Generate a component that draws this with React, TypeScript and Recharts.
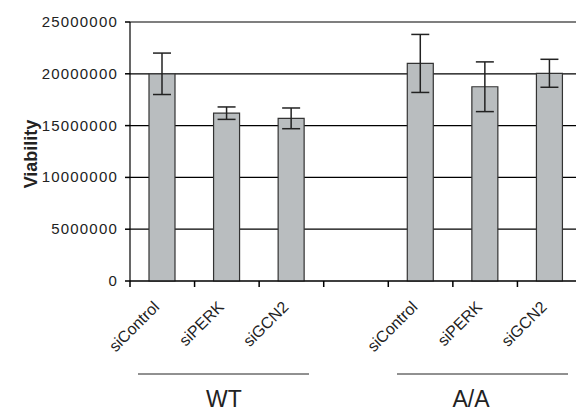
import React from 'react';
import { BarChart, Bar, XAxis, YAxis, CartesianGrid, ErrorBar } from 'recharts';

const categories = ['siControl', 'siPERK', 'siGCN2', '', 'siControl', 'siPERK', 'siGCN2'];
const viability = [20000000, 16200000, 15700000, null, 21000000, 18750000, 20050000];
const errors = [2000000, 600000, 1000000, null, 2800000, 2400000, 1350000];
const yTicks = [0, 5000000, 10000000, 15000000, 20000000, 25000000];
const groupLabels = ['WT', 'A/A'];

const data = categories.map((name, i) => ({ key: `c${i}`, name, value: viability[i], err: errors[i] }));

const FONT = '"Liberation Sans", Arial, sans-serif';
const PLOT_W = 452;
const AXIS_Y = 281;

const XTick = (props: any) => {
  const { x, payload } = props;
  const band = PLOT_W / categories.length;
  const idx = payload.index as number;
  const label = categories[idx];
  const left = x - band / 2;
  const ax = x - 2;
  const ay = AXIS_Y + 27;
  return (
    <g>
      <rect x={left - 0.75} y={AXIS_Y} width={1.5} height={6} fill="#000" />
      {idx === categories.length - 1 && <rect x={x + band / 2 - 0.75} y={AXIS_Y} width={1.5} height={6} fill="#000" />}
      {label && (
        <text
          x={ax}
          y={ay}
          textAnchor="end"
          transform={`rotate(-45 ${ax} ${ay})`}
          fontSize={16}
          fontFamily={FONT}
          fill="#222"
        >
          {label}
        </text>
      )}
    </g>
  );
};

const YTick = (props: any) => {
  const { x, y, payload } = props;
  return (
    <g>
      <rect x={x + 7} y={y - 0.75} width={5} height={1.5} fill="#000" />
      <text x={x} y={y + 5} textAnchor="end" fontSize={15} fontFamily={FONT} fill="#222" letterSpacing={1.2}>
        {String(payload.value)}
      </text>
    </g>
  );
};

export default function App() {
  return (
    <div style={{ position: 'absolute', left: 0, top: 0, width: 576, height: 414, overflow: 'hidden', background: '#fff' }}>
      <BarChart width={600} height={414} data={data} margin={{ top: 22, right: 18, left: 20, bottom: 132 }}>
        <CartesianGrid horizontal vertical={false} stroke="#000" strokeWidth={1.2} />
        <XAxis
          dataKey="key"
          height={1}
          interval={0}
          tickLine={false}
          tickSize={0}
          tickMargin={0}
          axisLine={{ stroke: '#000', strokeWidth: 1.2 }}
          tick={<XTick />}
        />
        <YAxis
          width={110}
          domain={[0, 25000000]}
          ticks={yTicks}
          interval={0}
          axisLine={{ stroke: '#000', strokeWidth: 1.2 }}
          tickLine={false}
          tickSize={5}
          tickMargin={7}
          tick={<YTick />}
        />
        <Bar dataKey="value" barSize={26} fill="#b9bdbf" stroke="#333" strokeWidth={1.2} isAnimationActive={false}>
          <ErrorBar dataKey="err" width={9} stroke="#222" strokeWidth={1.5} />
        </Bar>
      </BarChart>
      <svg width={576} height={414} style={{ position: 'absolute', left: 0, top: 0, pointerEvents: 'none' }}>
        <text
          x={37}
          y={154}
          transform="rotate(-90 37 154)"
          textAnchor="middle"
          fontSize={18}
          fontWeight="bold"
          fontFamily={FONT}
          fill="#222"
        >
          Viability
        </text>
        <line x1={138} y1={374} x2={309} y2={374} stroke="#222" strokeWidth={1} />
        <line x1={397} y1={374} x2={568} y2={374} stroke="#222" strokeWidth={1} />
        <text x={224} y={407} textAnchor="middle" fontSize={23} fontFamily={FONT} fill="#222">
          {groupLabels[0]}
        </text>
        <text x={471} y={407} textAnchor="middle" fontSize={23} fontFamily={FONT} fill="#222">
          {groupLabels[1]}
        </text>
      </svg>
    </div>
  );
}
